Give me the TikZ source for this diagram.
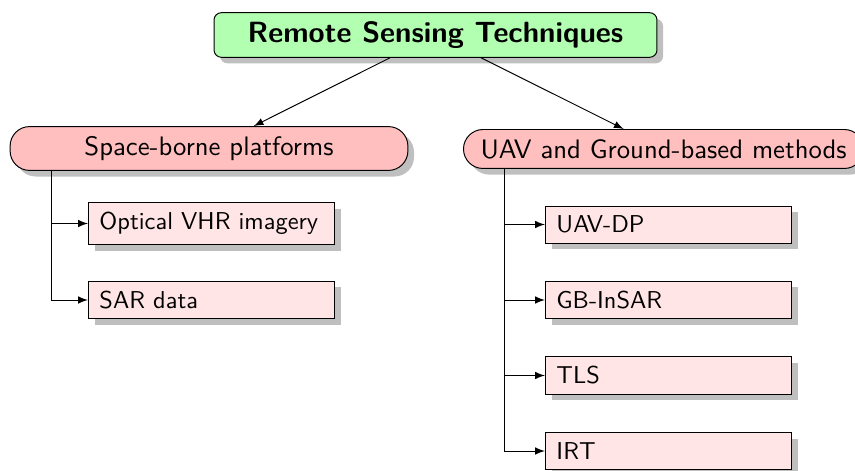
\documentclass[tikz,border=0pt]{standalone}
\usetikzlibrary{calc,shadows,arrows}
\tikzset{
	boxshadow/.style={drop shadow={shadow xshift=2.5pt, shadow yshift=-2.5pt, fill=black!25, opacity=1}},
	rootbox/.style={draw, rounded corners=3pt, fill=green!30, font=\sffamily\large\bfseries, minimum width=6.38cm, inner ysep=3.6pt, boxshadow},
	groupbox/.style={draw, rounded corners=8pt, fill=red!25, font=\sffamily\fontsize{10.95}{13.6}\selectfont, minimum width=5.73cm, inner xsep=7pt, inner ysep=4pt, boxshadow},
	leafbox/.style={draw, fill=red!10, font=\sffamily, anchor=west, text width=92pt, align=left, inner xsep=4.5pt, inner ysep=4pt, boxshadow}
}

\begin{document}
\begin{tikzpicture}[x=0.0144cm, y=-0.0144cm]
			%%%%% START %%%%%
			\useasboundingbox (0, 0) rectangle (855, 471);
			
			\node[rootbox] (rst) at (435.5, 35) {Remote Sensing Techniques};
			
			\node[groupbox] (space) at (209, 148.5) {Space-borne platforms};
			\node[groupbox, anchor=west] (ground) at (463, 149) {UAV and Ground-based methods};
			
			\draw[-latex] (rst) -- (space);
			\draw[-latex] (rst) -- (ground);
			
			\node[leafbox] (optical) at (88, 223.5) {Optical VHR imagery};
			\node[leafbox] (sar) at (88, 300) {SAR data};
			
			\node[leafbox] (uavdp) at (545, 224.5) {UAV-DP};
			\node[leafbox] (gbinsar) at (545, 300) {GB-InSAR};
			\node[leafbox] (tls) at (545, 375.5) {TLS};
			\node[leafbox] (irt) at (545, 451) {IRT};
			
			\coordinate (spacebus) at ($(space.south west)+(42, 0)$);
			\draw[-latex] (spacebus) |- (optical.west);
			\draw[-latex] (spacebus) |- (sar.west);
			
			\coordinate (groundbus) at ($(ground.south west)+(41, 0)$);
			\draw[-latex] (groundbus) |- (uavdp.west);
			\draw[-latex] (groundbus) |- (gbinsar.west);
			\draw[-latex] (groundbus) |- (tls.west);
			\draw[-latex] (groundbus) |- (irt.west);
			%%%%% END %%%%%
\end{tikzpicture}
\end{document}
